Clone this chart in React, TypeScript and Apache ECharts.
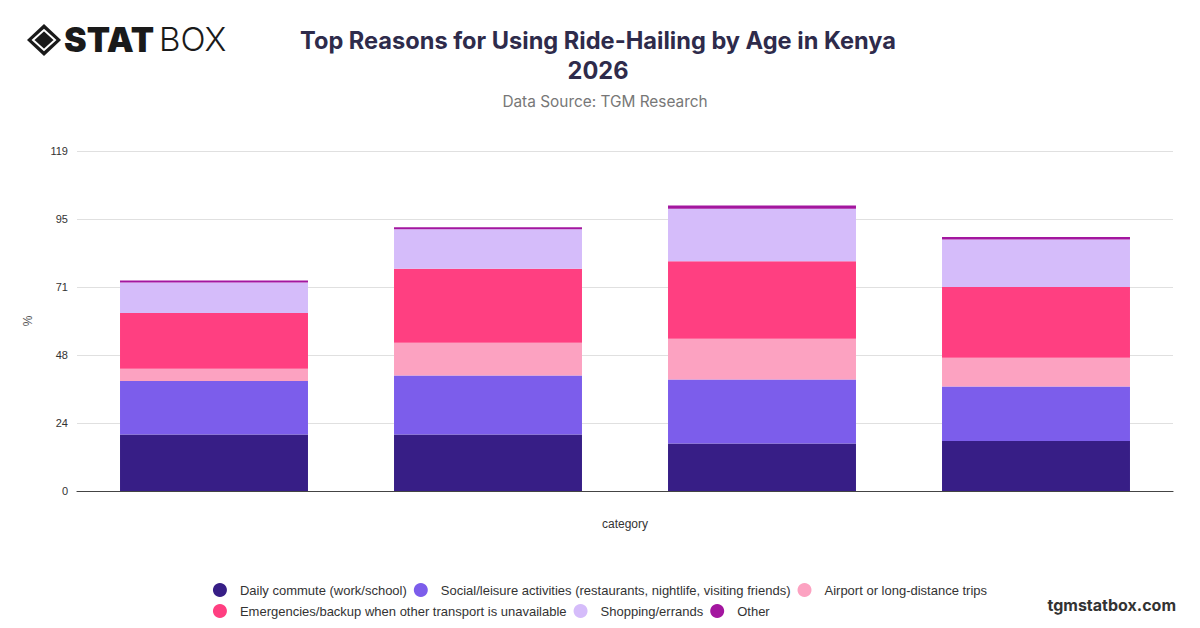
import React, { useEffect, useRef } from "react";
import * as echarts from "echarts";

const categories = ["18-24", "25-34", "35-44", "45+"];
const dailyCommute = [19.8, 19.8, 16.6, 17.5];
const socialLeisure = [18.7, 20.6, 22.4, 19.1];
const airportTrips = [4.3, 11.5, 14.3, 10.0];
const emergencies = [19.5, 25.9, 27.1, 24.8];
const shopping = [10.7, 13.8, 18.4, 16.6];
const other = [0.7, 0.7, 1.1, 0.9];

const seriesNames = [
  "Daily commute (work/school)",
  "Social/leisure activities (restaurants, nightlife, visiting friends)",
  "Airport or long-distance trips",
  "Emergencies/backup when other transport is unavailable",
  "Shopping/errands",
  "Other",
];
const seriesColors = ["#371e86", "#7c5deb", "#fca2c1", "#ff3f81", "#d5bcfa", "#a3169f"];
const seriesData = [dailyCommute, socialLeisure, airportTrips, emergencies, shopping, other];

const yMax = 119;
const yInterval = 23.8;

export default function App() {
  const ref = useRef<HTMLDivElement>(null);
  useEffect(() => {
    if (!ref.current) return;
    const chart = echarts.init(ref.current, undefined, { renderer: "svg" });
    chart.setOption({
      animation: false,
      backgroundColor: "#ffffff",
      title: [
        {
          text: "Top Reasons for Using Ride-Hailing by Age in Kenya\n2026",
          left: 593,
          textAlign: "center",
          top: 20,
          textStyle: {
            fontFamily: "Inter",
            fontWeight: "bold",
            fontSize: 23.6,
            lineHeight: 30,
            color: "#2e2b4b",
          },
        },
        {
          text: "Data Source: TGM Research",
          left: 600,
          textAlign: "center",
          top: 89,
          textStyle: {
            fontFamily: "Inter",
            fontWeight: "normal",
            fontSize: 15.4,
            color: "#777777",
          },
        },
      ],
      legend: {
        data: seriesNames,
        left: "center",
        top: 578,
        width: 800,
        icon: "circle",
        itemWidth: 14,
        itemHeight: 14,
        itemGap: 7,
        textStyle: {
          fontFamily: "Liberation Sans, Arial",
          fontSize: 13,
          color: "#333333",
          padding: [0, 0, 0, 8],
        },
      },
      grid: { left: 77, right: 27, top: 151, bottom: 137 },
      xAxis: {
        type: "category",
        data: categories,
        name: "category",
        nameLocation: "middle",
        nameGap: 27,
        nameTextStyle: { fontFamily: "Liberation Sans, Arial", fontSize: 12, color: "#333333" },
        axisLine: { lineStyle: { color: "#444444", width: 1.2 } },
        axisTick: { show: false },
        axisLabel: { show: false },
      },
      yAxis: {
        type: "value",
        min: 0,
        max: yMax,
        interval: yInterval,
        name: "%",
        nameLocation: "middle",
        nameGap: 43,
        nameTextStyle: { fontFamily: "Liberation Sans, Arial", fontSize: 12, color: "#555555" },
        axisLabel: {
          fontFamily: "Liberation Sans, Arial",
          fontSize: 11,
          color: "#333333",
          margin: 9,
          formatter: (v: number) => String(Math.round(v)),
        },
        splitLine: { lineStyle: { color: "#e0e0e0" } },
        axisLine: { show: false },
        axisTick: { show: false },
      },
      series: seriesNames.map((name, i) => ({
        name,
        type: "bar",
        stack: "total",
        barWidth: "68.6%",
        data: seriesData[i],
        itemStyle: { color: seriesColors[i] },
      })),
      graphic: [
        {
          type: "polygon",
          shape: { points: [[27, 40], [44, 24], [61, 40], [44, 56]] },
          style: { fill: "#1a1a1a" },
        },
        {
          type: "polygon",
          shape: { points: [[33, 40], [44, 30], [55, 40], [44, 50]] },
          style: { fill: "none", stroke: "#ffffff", lineWidth: 2 },
        },
        {
          type: "polygon",
          shape: { points: [[37, 40], [44, 34], [51, 40], [44, 46]] },
          style: { fill: "#1a1a1a" },
        },
        {
          type: "text",
          left: 64,
          top: 22,
          style: {
            text: "STAT",
            fontFamily: "Inter",
            fontWeight: 900,
            fontSize: 34,
            fill: "#1a1a1a",
          },
        },
        {
          type: "text",
          left: 159,
          top: 22,
          style: {
            text: "BOX",
            fontFamily: "Inter",
            fontWeight: 300,
            fontSize: 33,
            fill: "#1a1a1a",
          },
        },
        {
          type: "text",
          right: 24,
          top: 597,
          style: {
            text: "tgmstatbox.com",
            fontFamily: "Inter",
            fontWeight: "bold",
            fontSize: 16,
            fill: "#333333",
          },
        },
      ],
    });
    return () => chart.dispose();
  }, []);
  return (
    <div style={{ position: "fixed", left: 0, top: 0, width: 1200, height: 628, background: "#fff" }}>
      <div ref={ref} style={{ width: 1200, height: 628 }} />
    </div>
  );
}
